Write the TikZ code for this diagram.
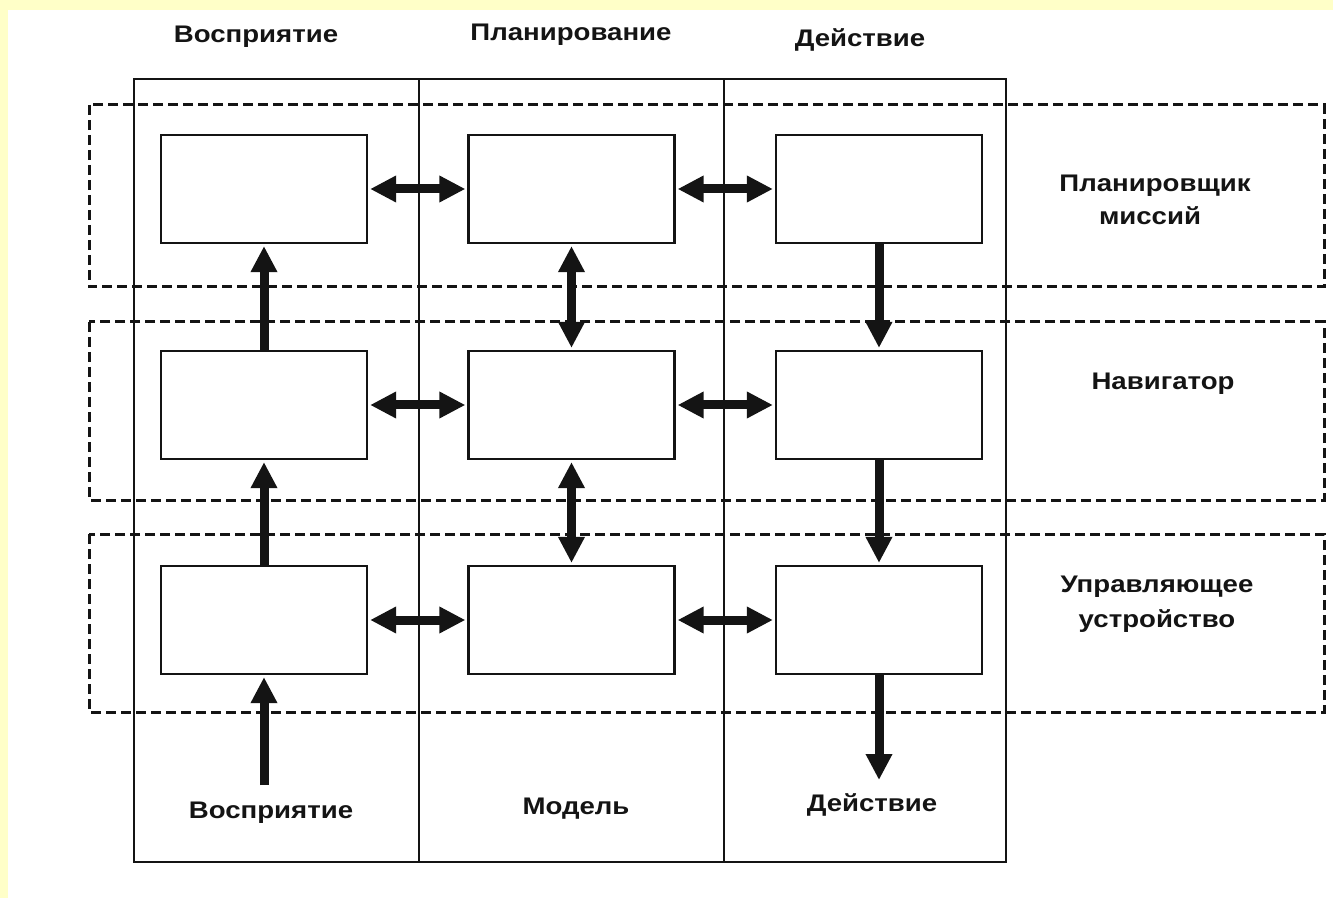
\documentclass[tikz,border=0pt]{standalone}
\usepackage{fontspec}
\newfontfamily\labfont{Liberation Sans}[FakeStretch=1.15]
\usetikzlibrary{arrows.meta}
\definecolor{paleyellow}{RGB}{255,255,200}
\definecolor{ink}{RGB}{20,20,20}
\begin{document}
\begin{tikzpicture}[x=0.5pt,y=-0.5pt,
  blk/.style={draw=ink, line width=1.1pt, minimum width=103pt, minimum height=54pt, inner sep=0pt},
  frame/.style={draw=ink, line width=1.1pt},
  band/.style={draw=ink, line width=1.5pt, dash pattern=on 5pt off 2.5pt},
  lab/.style={font=\labfont\bfseries\fontsize{12}{14}\selectfont, text=ink, inner sep=0pt, anchor=base},
  twoway/.style={draw=ink, line width=4.5pt, {Triangle[length=13pt,width=12.5pt]}-{Triangle[length=13pt,width=12.5pt]}, shorten <=1pt, shorten >=1pt},
  oneway/.style={draw=ink, line width=4.5pt, -{Triangle[length=13pt,width=12.5pt]}, shorten >=1pt}
]
% background
\fill[paleyellow] (0,0) rectangle (1333,898);
\fill[white] (8,10) rectangle (1333,898);
\useasboundingbox (0,0) rectangle (1333,898);

% frame and columns
\draw[frame] (134,79) rectangle (1006,862);
\draw[frame] (419,79) -- (419,862);
\draw[frame] (724,79) -- (724,862);

% dashed bands
\draw[band] (89,105) rectangle (1324,287);
\draw[band] (89,322) rectangle (1324,500);
\draw[band] (89,534) rectangle (1324,712);

% boxes
\node[blk] (p1) at (264,189) {};
\node[blk] (m1) at (571.5,189) {};
\node[blk] (a1) at (879,189) {};
\node[blk] (p2) at (264,405) {};
\node[blk] (m2) at (571.5,405) {};
\node[blk] (a2) at (879,405) {};
\node[blk] (p3) at (264,620) {};
\node[blk] (m3) at (571.5,620) {};
\node[blk] (a3) at (879,620) {};

% free ends
\coordinate (pin) at (264,785);
\coordinate (aout) at (879,782);

% horizontal two-way arrows
\draw[twoway] (p1.east) -- (m1.west);
\draw[twoway] (m1.east) -- (a1.west);
\draw[twoway] (p2.east) -- (m2.west);
\draw[twoway] (m2.east) -- (a2.west);
\draw[twoway] (p3.east) -- (m3.west);
\draw[twoway] (m3.east) -- (a3.west);

% vertical model arrows
\draw[twoway] (m1.south) -- (m2.north);
\draw[twoway] (m2.south) -- (m3.north);

% perception upward
\draw[oneway] (p2.north) -- (p1.south);
\draw[oneway] (p3.north) -- (p2.south);
\draw[oneway] (pin) -- (p3.south);

% action downward
\draw[oneway] (a1.south) -- (a2.north);
\draw[oneway] (a2.south) -- (a3.north);
\draw[oneway] (a3.south) -- (aout);

% labels top
\node[lab] (tP) at (256,43) {Восприятие};
\node[lab] (tM) at (571,41) {Планирование};
\node[lab] (tA) at (860,47) {Действие};
% labels bottom
\node[lab] (bP) at (271,818) {Восприятие};
\node[lab] (bM) at (576,814) {Модель};
\node[lab] (bA) at (872,811) {Действие};
% labels right
\node[lab] (r1a) at (1155,192) {Планировщик};
\node[lab] (r1b) at (1150,225) {миссий};
\node[lab] (r2) at (1163,390) {Навигатор};
\node[lab] (r3a) at (1157,592) {Управляющее};
\node[lab] (r3b) at (1157,627) {устройство};
\end{tikzpicture}
\end{document}
